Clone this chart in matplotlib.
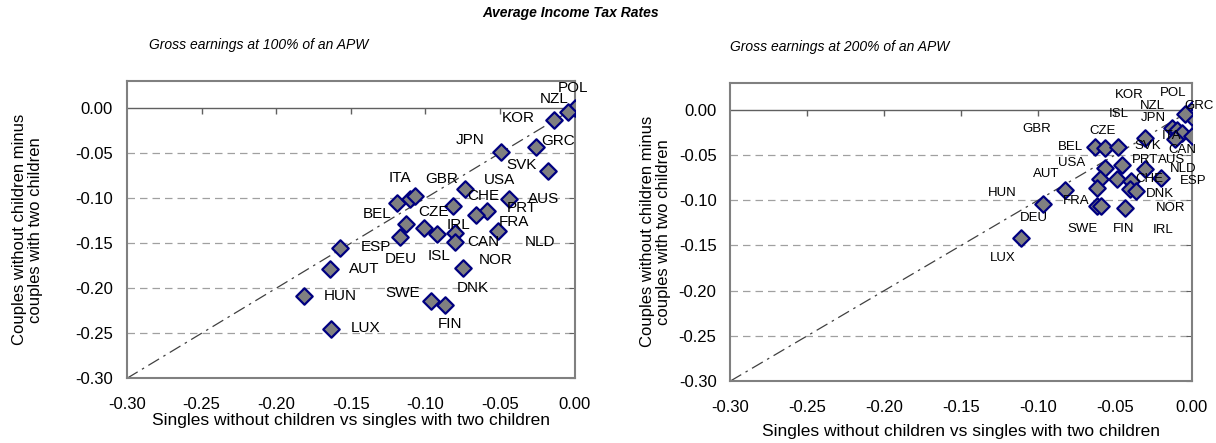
import matplotlib
matplotlib.use("Agg")
import matplotlib.pyplot as plt

plt.rcParams["font.family"] = ["Liberation Sans", "DejaVu Sans"]

# Gross earnings at 100% of an APW
pays_100 = ["POL", "NZL", "KOR", "GRC", "JPN", "SVK", "ITA", "NLD", "GBR", "USA",
            "CHE", "AUS", "PRT", "DNK", "BEL", "DEU", "CZE", "ISL", "IRL", "CAN",
            "FRA", "NOR", "ESP", "AUT", "HUN", "LUX", "SWE", "FIN"]
x_100 = [0.000, -0.0045, -0.0139, -0.0257, -0.0497, -0.0177, -0.1189, -0.1102, -0.1068, -0.0733,
         -0.0816, -0.0440, -0.0585, -0.0664, -0.1133, -0.1173, -0.1012, -0.0921, -0.0804, -0.0804,
         -0.0514, -0.0749, -0.1570, -0.1642, -0.1816, -0.1631, -0.0962, -0.0872]
y_100 = [0.000, -0.0044, -0.0137, -0.0432, -0.0491, -0.0701, -0.1059, -0.1004, -0.0974, -0.0900,
         -0.1085, -0.1015, -0.1140, -0.1188, -0.1292, -0.1435, -0.1336, -0.1399, -0.1391, -0.1483,
         -0.1365, -0.1779, -0.1557, -0.1782, -0.2089, -0.2450, -0.2137, -0.2185]

# Gross earnings at 200% of an APW
pays_200 = ["POL", "GRC", "NZL", "JPN", "KOR", "ITA", "CAN", "NLD", "SVK", "BEL",
            "CZE", "ISL", "USA", "PRT", "AUS", "ESP", "GBR", "CHE", "DNK", "HUN",
            "NOR", "IRL", "AUT", "DEU", "SWE", "FRA", "FIN", "LUX"]
x_200 = [0.000, 0.000, -0.0043, -0.0131, -0.0095, -0.0064, -0.0112, 0.000, -0.0303, -0.0627,
         -0.0565, -0.0481, -0.0567, -0.0457, -0.0303, -0.0203, -0.0600, -0.0488, -0.0398, -0.0619,
         -0.0403, -0.0362, -0.0822, -0.0969, -0.0619, -0.0588, -0.0436, -0.1113]
y_200 = [0.000, -0.0081, -0.0048, -0.0196, -0.0222, -0.0252, -0.0326, -0.0289, -0.0307, -0.0407,
         -0.0426, -0.0415, -0.0641, -0.0615, -0.0659, -0.0759, -0.0770, -0.0770, -0.0785, -0.0870,
         -0.0881, -0.0896, -0.0889, -0.1044, -0.1067, -0.1067, -0.1085, -0.1419]

# décalage des étiquettes (unités des axes)
dec_100 = [(-0.0012, 0.022), (-0.0089, 0.0148), (-0.0239, 0.0026), (0.0145, 0.0063), (-0.0203, 0.0133),
           (-0.0181, 0.0066), (0.0020, 0.0284), (0.0867, -0.0480), (0.0179, 0.0185), (0.0230, 0.0100),
           (0.0206, 0.0111), (0.0232, 0.0011), (0.0228, 0.0026), (-0.0016, -0.0812), (-0.0192, 0.0114),
           (0.0009, -0.0244), (0.0063, 0.0185), (0.0011, -0.0240), (0.0027, 0.0092), (0.0194, -0.0007),
           (0.0105, 0.0096), (0.0219, 0.0092), (0.0235, 0.0011), (0.0233, 0.0000), (0.0242, 0.0007),
           (0.0231, 0.0007), (-0.0190, 0.0081), (0.0034, -0.0214)]
dec_200 = [(-0.0119, 0.0189), (0.0048, 0.0122), (-0.0212, 0.0085), (-0.0119, 0.0104), (-0.0310, 0.0389),
           (-0.0071, -0.0037), (0.0052, -0.0119), (-0.0060, -0.0370), (0.0017, -0.0093), (-0.0164, -0.0007),
           (-0.0014, 0.0193), (0.0005, 0.0370), (-0.0212, 0.0048), (0.0155, 0.0059), (0.0172, 0.0104),
           (0.0208, -0.0025), (-0.0408, 0.0556), (0.0214, 0.0004), (0.0191, -0.0148), (-0.0613, -0.0056),
           (0.0262, -0.0204), (0.0174, -0.0430), (-0.0124, 0.0178), (-0.0060, -0.0148), (-0.0095, -0.0248),
           (-0.0167, 0.0056), (-0.0010, -0.0230), (-0.0114, -0.0219)]

lims = [-0.30, 0.00]
yticks = [-0.30, -0.25, -0.20, -0.15, -0.10, -0.05, 0.00]
xticks = [-0.30, -0.25, -0.20, -0.15, -0.10, -0.05, 0.00]

fig = plt.figure(figsize=(12.16, 4.43), dpi=100)
ax1 = fig.add_axes([0.1044, 0.146, 0.3682, 0.6711])
ax2 = fig.add_axes([0.6007, 0.140, 0.3795, 0.6734])

panneaux = [
    (ax1, pays_100, x_100, y_100, dec_100, "Gross earnings at 100% of an APW", 11, -0.188, -0.117, 0.05),
    (ax2, pays_200, x_200, y_200, dec_200, "Gross earnings at 200% of an APW", 9.5, -0.128, -0.144, 0.0),
]

for ax, pays, xs, ys, dec, sous_titre, fs, ylab_x, xlab_y, st_x in panneaux:
    ax.set_xlim(lims)
    ax.set_ylim(-0.30, 0.03)
    for t in yticks[1:-1]:
        ax.axhline(t, color="#a0a0a0", lw=0.9, dashes=(6, 4), zorder=1)
    ax.plot(lims, lims, color="#404040", lw=0.9, dashes=(10, 4, 2, 4), zorder=2)

    # axe horizontal qui croise à zéro
    ax.axhline(0, color="#606060", lw=1.0, zorder=2)
    sec = ax.secondary_xaxis(0, transform=ax.transData)
    sec.set_xticks(xticks[1:-1])
    sec.tick_params(axis="x", direction="out", length=4, width=1, color="#606060",
                    labelbottom=False, labeltop=False)
    sec.spines["bottom"].set_visible(False)
    sec.spines["top"].set_visible(False)

    ax.scatter(xs, ys, marker="D", s=70, facecolor="#808080", edgecolor="#000080",
               linewidths=1.6, zorder=4)
    for p, x, y, (dx, dy) in zip(pays, xs, ys, dec):
        ax.text(x + dx, y + dy, p, fontsize=fs, ha="center", va="center", zorder=5)

    ax.set_xticks(xticks)
    ax.set_xticklabels([f"{t:.2f}" for t in xticks])
    ax.set_yticks(yticks)
    ax.set_yticklabels([f"{t:.2f}" for t in yticks])
    ax.tick_params(axis="x", bottom=False, pad=10, labelsize=12)
    ax.tick_params(axis="y", left=False, right=True, direction="in", length=4,
                   color="#606060", pad=10, labelsize=12, labelleft=True, labelright=False)
    for s in ax.spines.values():
        s.set_color("#808080")
        s.set_linewidth(1.5)

    ax.set_ylabel("Couples without children minus\ncouples with two children", fontsize=12,
                  linespacing=1.1)
    ax.yaxis.set_label_coords(ylab_x, 0.5)
    ax.set_xlabel("Singles without children vs singles with two children", fontsize=12.5)
    ax.xaxis.set_label_coords(0.5, xlab_y)
    ax.text(st_x, 1.12, sous_titre, transform=ax.transAxes, fontsize=10, style="italic",
            ha="left", va="center")

fig.text(0.469, 0.97, "Average Income Tax Rates", fontsize=10, fontweight="bold",
         style="italic", ha="center", va="center")

fig.savefig("out.png", dpi=100)
